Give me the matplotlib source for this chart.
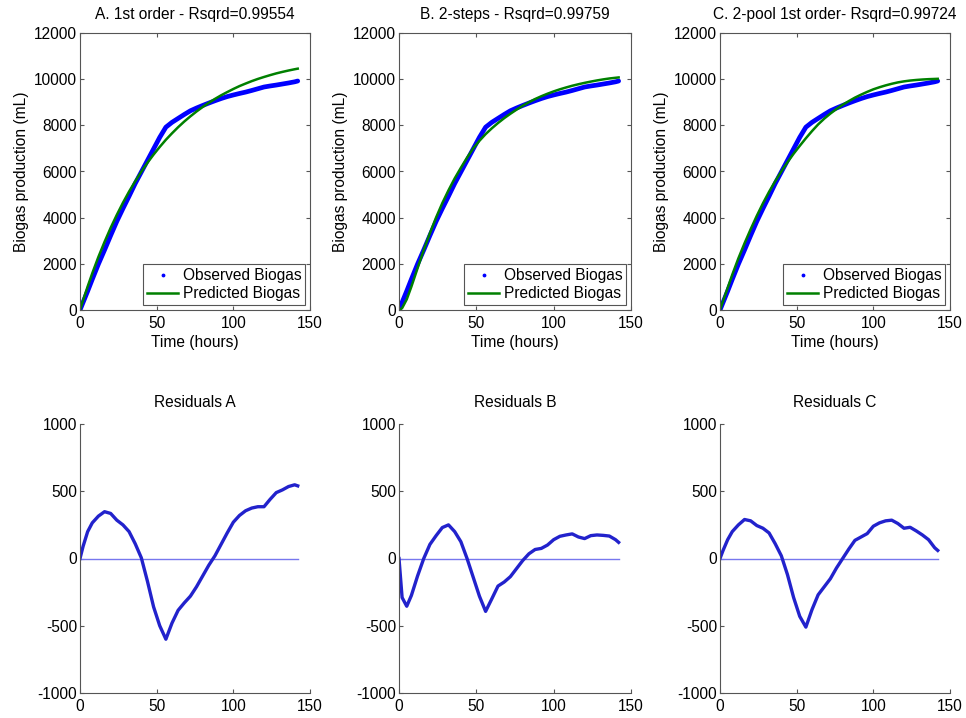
import matplotlib
matplotlib.use("Agg")
import matplotlib.pyplot as plt
from matplotlib.lines import Line2D

plt.rcParams['font.family'] = ['Liberation Sans', 'DejaVu Sans']
plt.rcParams['axes.unicode_minus'] = False

# ---- data ----
time_h = [0, 2, 5, 8, 12, 16, 20, 24, 28, 32, 36, 40, 44, 48, 52, 56, 60, 64, 68,
          72, 76, 80, 84, 88, 92, 96, 100, 104, 108, 112, 116, 120, 124, 128, 132,
          136, 140, 142]

observed = [0, 330, 820, 1330, 1990, 2600, 3230, 3840, 4395, 4930, 5480, 5980,
            6480, 6980, 7480, 7920, 8130, 8300, 8470, 8630, 8750, 8860, 8965,
            9065, 9160, 9245, 9315, 9380, 9440, 9510, 9585, 9660, 9705, 9745,
            9790, 9835, 9885, 9920]

predicted_A = [0, 420, 1020, 1590, 2300, 2950, 3560, 4120, 4645, 5130, 5575,
               5990, 6380, 6735, 7065, 7375, 7655, 7920, 8165, 8390, 8600, 8795,
               8975, 9145, 9300, 9440, 9575, 9700, 9810, 9915, 10010, 10095,
               10175, 10250, 10315, 10375, 10430, 10455]

predicted_B = [0, 80, 460, 1010, 1810, 2600, 3330, 4010, 4630, 5185, 5700, 6160,
               6600, 7000, 7330, 7620, 7870, 8100, 8310, 8500, 8680, 8850, 9000,
               9140, 9260, 9370, 9470, 9560, 9640, 9715, 9780, 9840, 9895, 9945,
               9990, 10030, 10060, 10075]

predicted_C = [0, 390, 960, 1530, 2240, 2890, 3500, 4080, 4620, 5120, 5580, 6000,
               6400, 6770, 7110, 7440, 7750, 8040, 8290, 8510, 8710, 8890, 9050,
               9200, 9330, 9450, 9560, 9650, 9730, 9800, 9860, 9905, 9940, 9965,
               9985, 10000, 10010, 10015]

resid_A = [0, 90, 200, 265, 315, 348, 335, 285, 250, 200, 110, 5, -170, -360,
           -500, -600, -480, -385, -330, -280, -210, -130, -50, 20, 105, 190,
           270, 320, 355, 375, 385, 385, 440, 490, 510, 535, 548, 540]

resid_B = [0, -290, -355, -275, -130, 0, 105, 170, 230, 250, 200, 125, 0, -140,
           -280, -393, -300, -205, -175, -135, -75, -15, 35, 67, 75, 100, 140,
           165, 175, 183, 160, 148, 170, 175, 172, 167, 140, 120]

resid_C = [0, 60, 140, 200, 250, 290, 280, 245, 225, 190, 110, 20, -120, -290,
           -430, -510, -380, -270, -210, -150, -70, 0, 70, 135, 160, 185, 240,
           265, 280, 285, 260, 225, 232, 205, 175, 140, 80, 60]

titles_top = ["A. 1st order - Rsqrd=0.99554",
              "B. 2-steps - Rsqrd=0.99759",
              "C. 2-pool 1st order- Rsqrd=0.99724"]
titles_bottom = ["Residuals A", "Residuals B", "Residuals C"]
legend_labels = ["Observed Biogas", "Predicted Biogas"]
xticks = [0, 50, 100, 150]
yticks_top = [0, 2000, 4000, 6000, 8000, 10000, 12000]
yticks_bottom = [-1000, -500, 0, 500, 1000]

# ---- layout ----
W, H = 966, 718
fig = plt.figure(figsize=(W / 100, H / 100), dpi=100)

lefts = [80, 399, 720]
widths = [230, 232, 230]
top_box = (33, 310)
bot_box = (424, 693)

fs = 11.2
grey = '#555555'
preds = [predicted_A, predicted_B, predicted_C]
resids = [resid_A, resid_B, resid_C]

for i in range(3):
    # top panels
    ax = fig.add_axes([lefts[i] / W, 1 - top_box[1] / H, widths[i] / W,
                       (top_box[1] - top_box[0]) / H])
    ax.plot(time_h, observed, '-', color='#0000ff', lw=3.4,
            solid_capstyle='round')
    ax.plot(time_h, preds[i], '-', color='#008000', lw=1.8)
    ax.set_xlim(0, 150)
    ax.set_ylim(0, 12000)
    ax.set_xticks(xticks)
    ax.set_yticks(yticks_top)
    ax.tick_params(direction='in', top=True, right=True, labelsize=fs,
                   length=3, color=grey)
    ax.tick_params(axis='x', pad=4)
    ax.tick_params(axis='y', pad=2)
    for s in ax.spines.values():
        s.set_color(grey)
        s.set_linewidth(0.8)
    ax.set_title(titles_top[i], fontsize=fs, pad=10)
    ax.set_xlabel("Time (hours)", fontsize=fs, labelpad=3)
    ax.set_ylabel("Biogas production (mL)", fontsize=fs, labelpad=4)
    handles = [Line2D([], [], ls='none', marker='.', color='#0000ff', ms=3.5),
               Line2D([], [], ls='-', color='#008000', lw=1.8)]
    leg = ax.legend(handles, legend_labels,
                    loc='lower right', fontsize=fs, fancybox=False,
                    framealpha=1, edgecolor=grey, borderpad=0.25,
                    handlelength=2.0, handletextpad=0.3, labelspacing=0.2,
                    borderaxespad=0.3)
    leg.get_frame().set_linewidth(0.8)

    # bottom panels
    axb = fig.add_axes([lefts[i] / W, 1 - bot_box[1] / H, widths[i] / W,
                        (bot_box[1] - bot_box[0]) / H])
    axb.plot([time_h[0], time_h[-1]], [0, 0], '-', color='#7777ee', lw=1.0)
    axb.plot(time_h, resids[i], '-', color='#2222cc', lw=2.4)
    axb.set_xlim(0, 150)
    axb.set_ylim(-1000, 1000)
    axb.set_xticks(xticks)
    axb.set_yticks(yticks_bottom)
    axb.spines['top'].set_visible(False)
    axb.spines['right'].set_visible(False)
    for s in ['left', 'bottom']:
        axb.spines[s].set_color(grey)
        axb.spines[s].set_linewidth(0.8)
    axb.tick_params(direction='in', labelsize=fs, length=3, color=grey)
    axb.tick_params(axis='x', pad=4)
    axb.tick_params(axis='y', pad=2)
    axb.set_title(titles_bottom[i], fontsize=fs, pad=12)

fig.savefig("out.png", dpi=100)
